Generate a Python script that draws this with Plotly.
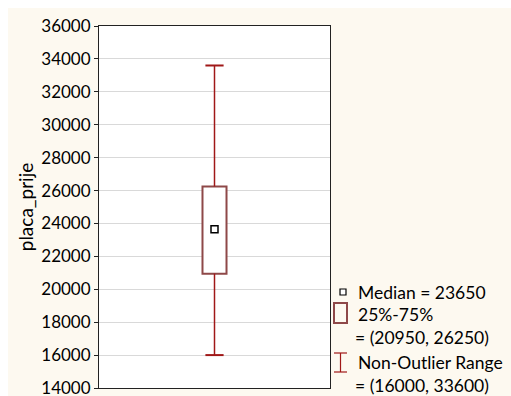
import plotly.graph_objects as go

# Summary statistics of placa_prije
variable = "placa_prije"
median = 23650
q1, q3 = 20950, 26250
lower_fence, upper_fence = 16000, 33600
y_ticks = list(range(14000, 36001, 2000))
y_tick_labels = [str(v) for v in y_ticks]

W, H = 511, 396
L, R, T, B = 99, 181, 26, 8
PW, PH = W - L - R, H - T - B

def px(x):
    return (x - L) / PW

def py(y):
    return (H - B - y) / PH

FONT = "Lato"
WHISKER = "#a01818"
BOX_EDGE = "#8e4848"
CREAM = "#fdf9f0"

fig = go.Figure()

# whiskers (q3 -> upper fence, lower fence -> q1)
fig.add_trace(go.Scatter(x=[variable, variable], y=[q3, upper_fence], mode="lines",
                         line=dict(color=WHISKER, width=1.5), hoverinfo="skip"))
fig.add_trace(go.Scatter(x=[variable, variable], y=[lower_fence, q1], mode="lines",
                         line=dict(color=WHISKER, width=1.5), hoverinfo="skip"))
# whisker caps
fig.add_trace(go.Scatter(x=[variable, variable], y=[lower_fence, upper_fence], mode="markers",
                         marker=dict(symbol="line-ew", size=13,
                                     line=dict(color=WHISKER, width=2)),
                         hoverinfo="skip"))
# 25%-75% box
fig.add_trace(go.Bar(x=[variable], y=[q3 - q1], base=[q1], width=0.104,
                     marker=dict(color="white", line=dict(color=BOX_EDGE, width=2)),
                     hoverinfo="skip"))
# median
fig.add_trace(go.Scatter(x=[variable], y=[median], mode="markers",
                         marker=dict(symbol="square", size=7, color="white",
                                     line=dict(color="black", width=1.5)),
                         hoverinfo="skip"))

shapes = [
    # white strips around the cream page
    dict(type="rect", xref="paper", yref="paper", x0=px(-20), x1=px(W + 20),
         y0=py(0 - 20), y1=py(8), fillcolor="white", line_width=0, layer="below"),
    dict(type="rect", xref="paper", yref="paper", x0=px(-20), x1=px(8),
         y0=py(H + 20), y1=py(-20), fillcolor="white", line_width=0, layer="below"),
    # legend icons
    dict(type="rect", xref="paper", yref="paper", x0=px(340), x1=px(346),
         y0=py(295), y1=py(289), fillcolor="white", line=dict(color="black", width=1.2)),
    dict(type="rect", xref="paper", yref="paper", x0=px(334), x1=px(347),
         y0=py(323), y1=py(303), fillcolor="rgba(0,0,0,0)",
         line=dict(color=BOX_EDGE, width=2)),
    dict(type="line", xref="paper", yref="paper", x0=px(340.5), x1=px(340.5),
         y0=py(372), y1=py(353), line=dict(color=WHISKER, width=1.2)),
    dict(type="line", xref="paper", yref="paper", x0=px(334), x1=px(347),
         y0=py(353), y1=py(353), line=dict(color=WHISKER, width=1.2)),
    dict(type="line", xref="paper", yref="paper", x0=px(334), x1=px(347),
         y0=py(372), y1=py(372), line=dict(color=WHISKER, width=1.2)),
]

legend_lines = [
    (356, 292, f"Median = {median}"),
    (356, 314, "25%-75%"),
    (353, 337, f"= ({q1}, {q3})"),
    (356, 362, "Non-Outlier Range"),
    (353, 385, f"= ({lower_fence}, {upper_fence})"),
]
annotations = [
    dict(x=px(x), y=py(y), xref="paper", yref="paper", text=t, showarrow=False,
         xanchor="left", yanchor="middle", font=dict(family=FONT, size=17.5, color="black"))
    for x, y, t in legend_lines
]

fig.update_layout(
    width=W, height=H,
    margin=dict(l=L, r=R, t=T, b=B, pad=0, autoexpand=False),
    paper_bgcolor=CREAM, plot_bgcolor="white",
    showlegend=False, barmode="overlay",
    font=dict(family=FONT, size=17, color="black"),
    shapes=shapes, annotations=annotations,
    xaxis=dict(showticklabels=False, ticks="", showgrid=False, zeroline=False,
               showline=True, linecolor="#222222", linewidth=1, mirror=True,
               range=[-0.5, 0.5], automargin=False),
    yaxis=dict(range=[14000, 36000], tickvals=y_ticks, ticktext=y_tick_labels,
               ticks="outside", ticklen=4, ticklabeloverflow="allow", automargin=False,
               tickcolor="#222222", showgrid=True, gridcolor="#d9d9d9", gridwidth=1,
               zeroline=False, showline=True, linecolor="#222222", linewidth=1,
               mirror=True, tickfont=dict(family=FONT, size=17),
               title=dict(text=variable, font=dict(family=FONT, size=19), standoff=2)),
)

fig.write_html("out.html")
